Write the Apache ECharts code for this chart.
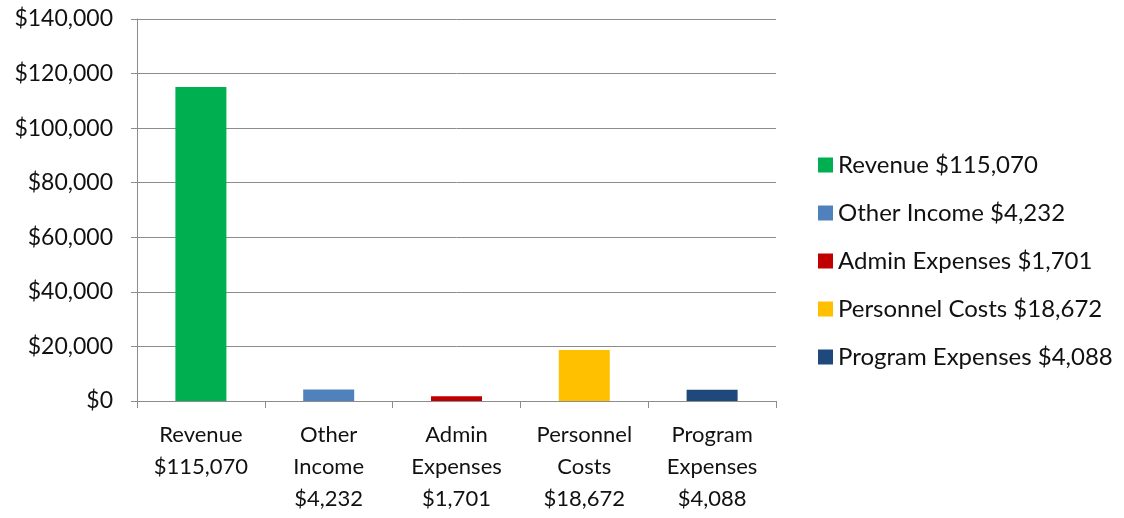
<!DOCTYPE html>
<html>
<head>
<meta charset="utf-8">
<script src="https://cdn.jsdelivr.net/npm/echarts@6/dist/echarts.min.js"></script>
<style>html,body{margin:0;padding:0;background:#fff}#c{width:1124px;height:518px}</style>
</head>
<body>
<div id="c"></div>
<script>
var categories = ['Revenue', 'Other Income', 'Admin Expenses', 'Personnel Costs', 'Program Expenses'];
var axisLabels = ['Revenue\n$115,070', 'Other\nIncome\n$4,232', 'Admin\nExpenses\n$1,701', 'Personnel\nCosts\n$18,672', 'Program\nExpenses\n$4,088'];
var values = [115070, 4232, 1701, 18672, 4088];
var legendNames = ['Revenue $115,070', 'Other Income $4,232', 'Admin Expenses $1,701', 'Personnel Costs $18,672', 'Program Expenses $4,088'];
var yMin = 0, yMax = 140000, yStep = 20000;
var colors = ['#00B050', '#4F81BD', '#C00000', '#FFC000', '#1F497D'];

function money(v) {
  return '$' + String(v).replace(/\B(?=(\d{3})+(?!\d))/g, ',');
}

var FONT = 'Lato';
var chart = echarts.init(document.getElementById('c'), null, {renderer: 'canvas'});
var series = values.map(function (v, i) {
  var d = values.map(function (_, j) { return j === i ? v : '-'; });
  return {
    name: legendNames[i],
    type: 'bar',
    stack: 'all',
    barWidth: 51,
    itemStyle: {color: colors[i]},
    data: d
  };
});
chart.setOption({
  animation: false,
  color: colors,
  grid: {left: 137, right: 348, top: 19, bottom: 117, containLabel: false},
  legend: {
    orient: 'vertical',
    left: 813,
    top: 148,
    icon: 'rect',
    itemWidth: 15,
    itemHeight: 15,
    itemGap: 24,
    textStyle: {fontFamily: FONT, fontSize: 24, color: '#111', lineHeight: 22},
    data: legendNames
  },
  xAxis: {
    type: 'category',
    data: axisLabels,
    axisLine: {lineStyle: {color: '#8c8c8c', width: 1}},
    axisTick: {show: true, length: 7, lineStyle: {color: '#8c8c8c'}},
    axisLabel: {interval: 0, margin: 18, fontFamily: FONT, fontSize: 22, lineHeight: 32, color: '#111'}
  },
  yAxis: {
    type: 'value',
    min: yMin, max: yMax, interval: yStep,
    axisLine: {show: true, lineStyle: {color: '#8c8c8c', width: 1}},
    axisTick: {show: true, length: 6, lineStyle: {color: '#8c8c8c'}},
    splitLine: {lineStyle: {color: '#8c8c8c', width: 1}},
    axisLabel: {margin: 24, fontFamily: FONT, fontSize: 23, color: '#111', formatter: money}
  },
  series: series
});
</script>
</body>
</html>
